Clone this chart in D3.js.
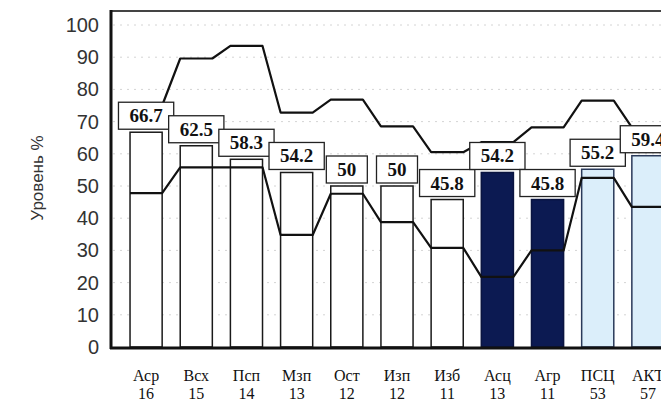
<!DOCTYPE html>
<html>
<head>
<meta charset="utf-8">
<script src="https://cdn.jsdelivr.net/npm/d3@7"></script>
<style>
  body { margin: 0; background: #fff; }
  svg { display: block; }
</style>
</head>
<body>
<svg id="chart" width="661" height="404"></svg>
<script>
// data
var categories = ['Аср', 'Всх', 'Псп', 'Мзп', 'Ост', 'Изп', 'Изб', 'Асц', 'Агр', 'ПСЦ', 'АКТ'];
var counts = [16, 15, 14, 13, 12, 12, 11, 13, 11, 53, 57];
var barValues = [66.7, 62.5, 58.3, 54.2, 50, 50, 45.8, 54.2, 45.8, 55.2, 59.4];
var upperLine = [75, 89.6, 93.5, 72.8, 76.8, 68.5, 60.5, 63.6, 68.2, 76.5, 68.2];
var lowerLine = [47.8, 55.8, 55.8, 34.8, 47.6, 38.8, 30.8, 21.8, 30, 52.5, 43.5];
var barGroup = ['w', 'w', 'w', 'w', 'w', 'w', 'w', 'd', 'd', 'l', 'l'];
var yTicks = [0, 10, 20, 30, 40, 50, 60, 70, 80, 90, 100];

var svg = d3.select('#chart');

var x = d3.scaleBand()
  .domain(categories)
  .range([121, 673])
  .paddingInner(0.36)
  .paddingOuter(0.18);

var y = d3.scaleLinear()
  .domain([0, 100])
  .range([347, 25]);

var fills = { w: '#ffffff', d: '#0c1a52', l: '#dbeefa' };
var strokes = { w: '#1a1a1a', d: '#0a1440', l: '#2a3a5a' };

// faint dotted grid
svg.append('g').selectAll('line')
  .data(yTicks.filter(function(d) { return d > 0; }))
  .enter().append('line')
    .attr('x1', 113).attr('x2', 661)
    .attr('y1', function(d) { return y(d); })
    .attr('y2', function(d) { return y(d); })
    .attr('stroke', '#d4d4d4')
    .attr('stroke-width', 1)
    .attr('stroke-dasharray', '2,5');

// bars
svg.append('g').selectAll('rect')
  .data(categories)
  .enter().append('rect')
    .attr('x', function(d) { return x(d); })
    .attr('y', function(d, i) { return y(barValues[i]); })
    .attr('width', x.bandwidth())
    .attr('height', function(d, i) { return y(0) - y(barValues[i]); })
    .attr('fill', function(d, i) { return fills[barGroup[i]]; })
    .attr('stroke', function(d, i) { return strokes[barGroup[i]]; })
    .attr('stroke-width', 1.5);

// step-like lines: flat across each bar, slanted between bars
function stepPoints(vals) {
  var pts = [];
  categories.forEach(function(c, i) {
    pts.push([x(c), y(vals[i])]);
    pts.push([x(c) + x.bandwidth(), y(vals[i])]);
  });
  return pts;
}
var line = d3.line();

[upperLine, lowerLine].forEach(function(vals) {
  svg.append('path')
    .attr('d', line(stepPoints(vals)))
    .attr('fill', 'none')
    .attr('stroke', '#111')
    .attr('stroke-width', 2.2)
    .attr('stroke-linejoin', 'round');
});

// value boxes
var labels = svg.append('g').selectAll('g')
  .data(categories)
  .enter().append('g');

labels.each(function(d, i) {
  var g = d3.select(this);
  var cx = x(d) + x.bandwidth() / 2;
  var bottom = y(barValues[i]) - 3;
  var t = g.append('text')
    .text(String(barValues[i]))
    .attr('x', cx)
    .attr('y', bottom - 7)
    .attr('text-anchor', 'middle')
    .attr('font-family', '"Liberation Serif", "Times New Roman", serif')
    .attr('font-weight', 'bold')
    .attr('font-size', 19)
    .attr('fill', '#111');
  var w = t.node().getComputedTextLength() + 22;
  g.insert('rect', 'text')
    .attr('x', cx - w / 2)
    .attr('y', bottom - 27)
    .attr('width', w)
    .attr('height', 27)
    .attr('fill', '#fff')
    .attr('stroke', '#222')
    .attr('stroke-width', 1.3);
});

// frame
svg.append('line')
  .attr('x1', 110).attr('x2', 661)
  .attr('y1', 11).attr('y2', 11)
  .attr('stroke', '#444').attr('stroke-width', 2);
svg.append('line')
  .attr('x1', 111).attr('x2', 111)
  .attr('y1', 10).attr('y2', 349)
  .attr('stroke', '#111').attr('stroke-width', 3);
svg.append('line')
  .attr('x1', 110).attr('x2', 661)
  .attr('y1', 348).attr('y2', 348)
  .attr('stroke', '#111').attr('stroke-width', 3);

// y axis labels
var yAxis = d3.axisLeft(y).tickValues(yTicks).tickSize(0).tickPadding(12);
var yg = svg.append('g')
  .attr('transform', 'translate(111,0)')
  .call(yAxis);
yg.select('.domain').remove();
yg.selectAll('text')
  .attr('font-family', '"Liberation Sans", Arial, sans-serif')
  .attr('font-size', 20)
  .attr('fill', '#333');

svg.append('text')
  .text('Уровень %')
  .attr('transform', 'translate(43,178) rotate(-90)')
  .attr('text-anchor', 'middle')
  .attr('font-family', '"Liberation Sans", Arial, sans-serif')
  .attr('font-size', 17)
  .attr('fill', '#333');

// x labels
var xl = svg.append('g').selectAll('text')
  .data(categories)
  .enter().append('text')
    .attr('text-anchor', 'middle')
    .attr('font-family', '"Liberation Serif", "Times New Roman", serif')
    .attr('font-size', 16)
    .attr('fill', '#111');
xl.append('tspan')
  .attr('x', function(d) { return x(d) + x.bandwidth() / 2; })
  .attr('y', 381)
  .text(function(d) { return d; });
xl.append('tspan')
  .attr('x', function(d) { return x(d) + x.bandwidth() / 2; })
  .attr('y', 399)
  .text(function(d, i) { return counts[i]; });
</script>
</body>
</html>
